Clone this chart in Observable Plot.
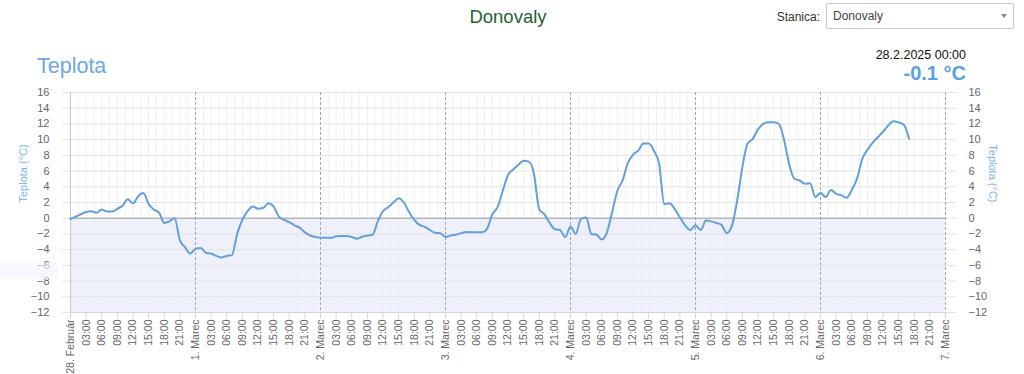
<!DOCTYPE html>
<html><head><meta charset="utf-8">
<script src="https://cdn.jsdelivr.net/npm/d3@7"></script>
<script src="https://cdn.jsdelivr.net/npm/@observablehq/plot@0.6"></script>
<style>
body{margin:0;background:#fff;font-family:"Liberation Sans",Arial,Helvetica,sans-serif;}
#wrap{position:relative;width:1024px;height:374px;overflow:hidden;}
#wrap svg{position:absolute;left:0;top:0;}
.abs{position:absolute;white-space:nowrap;z-index:2;}
</style></head><body>
<div id="wrap"></div>
<script>
// ---- data ----
const stationName = "Donovaly";
const stationLabel = "Stanica:";
const chartTitle = "Teplota";
const axisTitle = "Teplota (°C)";
const lastTime = "28.2.2025 00:00";
const lastValue = "-0.1 °C";
const dayLabels = ["28. Február","1. Marec","2. Marec","3. Marec","4. Marec","5. Marec","6. Marec","7. Marec"];
const hourLabels = ["03:00","06:00","09:00","12:00","15:00","18:00","21:00"];
const yTicks = [-12,-10,-8,-6,-4,-2,0,2,4,6,8,10,12,14,16];
const yDomain = [-12, 16];
// hourly temperatures from 28.2. 00:00
const temps = [
 -0.1,0.2,0.5,0.8,0.9,0.7,1.1,0.85,0.85,1.2,1.6,2.4,1.9,2.8,3.2,1.8,1.1,0.7,-0.6,-0.4,0.0,-2.8,-3.7,-4.5,
 -3.9,-3.8,-4.4,-4.5,-4.8,-5.0,-4.8,-4.7,-2.0,-0.2,0.9,1.5,1.2,1.3,1.9,1.5,0.2,-0.2,-0.5,-0.9,-1.2,-1.8,-2.2,-2.4,
 -2.5,-2.5,-2.5,-2.3,-2.25,-2.25,-2.4,-2.6,-2.35,-2.2,-2.1,-0.4,0.9,1.4,2.0,2.55,2.0,0.8,-0.2,-0.85,-1.1,-1.5,-1.85,-1.9,
 -2.4,-2.2,-2.1,-1.9,-1.75,-1.8,-1.8,-1.8,-1.3,0.5,1.4,3.5,5.5,6.2,6.8,7.3,7.2,5.6,1.1,0.5,-0.6,-1.4,-1.5,-2.4,
 -1.05,-2.0,-0.1,0.1,-2.0,-2.1,-2.7,-1.8,0.8,3.5,4.8,7.0,8.1,8.6,9.5,9.5,8.6,7.0,1.8,1.9,1.2,0.1,-0.9,-1.5,
 -0.9,-1.5,-0.3,-0.4,-0.6,-0.85,-1.9,-0.95,2.25,6.5,9.5,10.1,11.3,12.0,12.2,12.2,12.0,10.0,6.8,5.0,4.8,4.4,4.45,2.7,
 3.2,2.7,3.6,3.1,2.9,2.6,3.6,5.0,7.5,8.7,9.6,10.3,11.0,11.8,12.35,12.2,11.9,10.1
];

// ---- derived ----
const data = temps.map((t, i) => ({h: i, t}));
const dayHours = dayLabels.map((d, i) => i * 24);
const xDomain = [dayHours[0], dayHours[dayHours.length - 1]];
const xTicks = [];
dayHours.forEach((dh, i) => {
  xTicks.push(dh);
  if (i < dayHours.length - 1) hourLabels.forEach((l, k) => xTicks.push(dh + 3 * (k + 1)));
});
const minorX = [];
for (let i = 0; i < xTicks.length - 1; i++) { minorX.push(xTicks[i] + 1.5); if (xTicks[i] % 24) minorX.push(xTicks[i]); }
const fmt = h => h % 24 === 0 ? dayLabels[h / 24] : hourLabels[(h % 24) / 3 - 1];
const band = [{x1: xDomain[0], x2: xDomain[1], y1: yDomain[0], y2: 0}];

const font = "'Liberation Sans',Arial,Helvetica,sans-serif";
const chart = Plot.plot({
  width: 1024, height: 374,
  marginLeft: 70, marginRight: 79, marginTop: 92, marginBottom: 62,
  style: {fontFamily: font, fontSize: "11px", color: "#666", background: "transparent", overflow: "visible"},
  x: {domain: xDomain, axis: null},
  y: {domain: yDomain, axis: null},
  marks: [
    Plot.rect(band, {x1: "x1", x2: "x2", y1: "y1", y2: "y2", fill: "#eef0fb"}),
    Plot.ruleX(minorX, {stroke: "#f0f0f0", strokeWidth: 1}),
    Plot.axisY(yTicks, {anchor: "left", tickSize: 8, tickPadding: 13, stroke: "#e3e3e3", fill: "#666", label: null, fontSize: 11}),
    Plot.axisY(yTicks, {anchor: "right", tickSize: 10, tickPadding: 13, stroke: "#e3e3e3", fill: "#666", label: null, fontSize: 11}),
    Plot.ruleY(yTicks, {stroke: "#e3e3e3"}),
    Plot.ruleX([dayHours[0]], {stroke: "#c8c8c8"}),
    Plot.ruleX(dayHours.slice(1), {stroke: "#a6a6a6", strokeDasharray: "3,2"}),
    Plot.ruleY([0], {stroke: "#a0a0a0"}),
    Plot.ruleY([yDomain[0]], {stroke: "#ccd6eb"}),
    Plot.axisX(xTicks, {anchor: "bottom", tickSize: 6, tickPadding: 1, tickRotate: -90, tickFormat: fmt, stroke: "#ccd6eb", fill: "#666", label: null, fontSize: 10.5}),
    Plot.line(data, {x: "h", y: "t", stroke: "#629fdc", strokeWidth: 2, curve: "monotone-x"}),
    Plot.text([axisTitle], {text: d => d, frameAnchor: "left", dx: -47, rotate: -90, fill: "#82b3e6", fontSize: 11}),
    Plot.text([axisTitle], {text: d => d, frameAnchor: "right", dx: 47.5, rotate: 90, fill: "#82b3e6", fontSize: 11})
  ]
});
const wrap = document.getElementById("wrap");
wrap.appendChild(chart);

function addDiv(text, css) {
  const d = document.createElement("div");
  d.className = "abs";
  d.textContent = text;
  d.style.cssText += css;
  wrap.appendChild(d);
  return d;
}
// faint tooltip remnant
addDiv("", "left:0;top:263px;width:58px;height:16px;background:rgba(240,244,251,0.6);");
addDiv(stationName, "left:0;width:1016px;text-align:center;top:7.5px;font-size:18.5px;line-height:18.5px;color:#1f6330;");
addDiv(stationLabel, "right:204px;top:10.5px;font-size:12px;line-height:12px;color:#333;");
addDiv("", "left:826px;top:3px;width:186px;height:24px;border:1px solid #c8c8c8;border-radius:3px;background:#fff;");
addDiv(stationName, "left:833px;top:9.5px;font-size:12px;line-height:12px;color:#444;");
addDiv("", "left:1001px;top:14px;width:0;height:0;border-left:3.5px solid transparent;border-right:3.5px solid transparent;border-top:4px solid #888;");
addDiv(chartTitle, "left:37px;top:56px;font-size:21.5px;line-height:21.5px;color:#6fa7e1;");
addDiv(lastTime, "right:58px;top:48.5px;font-size:12.5px;line-height:12.5px;color:#111;");
addDiv(lastValue, "right:58px;top:63px;font-size:20px;line-height:20px;font-weight:bold;color:#5b9fe6;");
</script>
</body></html>
